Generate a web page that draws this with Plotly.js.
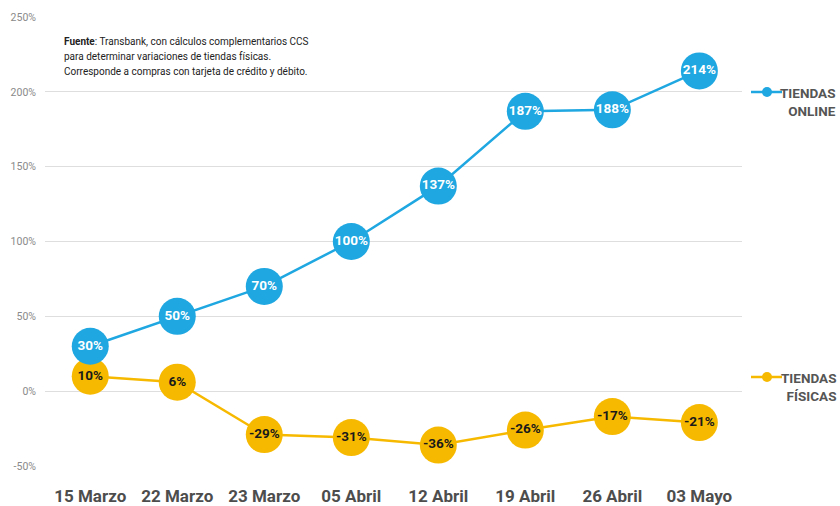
<!DOCTYPE html>
<html>
<head>
<meta charset="utf-8">
<script src="https://cdn.plot.ly/plotly-3.0.1.min.js"></script>
<style>html,body{margin:0;padding:0;background:#fff;}#chart{width:840px;height:506px;}</style>
</head>
<body>
<div id="chart"></div>
<script>
var categories = ["15 Marzo", "22 Marzo", "23 Marzo", "05 Abril", "12 Abril", "19 Abril", "26 Abril", "03 Mayo"];
var online = [30, 50, 70, 100, 137, 187, 188, 214];
var fisicas = [10, 6, -29, -31, -36, -26, -17, -21];
var yTickVals = [-50, 0, 50, 100, 150, 200, 250];
var yTickText = ["-50%", "0%", "50%", "100%", "150%", "200%", "250%"];
var onlineName = "TIENDAS<br>ONLINE";
var fisicasName = "TIENDAS<br>FÍSICAS";
var sourceLines = [
  "<b>Fuente</b>: Transbank, con cálculos complementarios CCS",
  "para determinar variaciones de tiendas físicas.",
  "Corresponde a compras con tarjeta de crédito y débito."
];

var FONT = "Roboto, 'Liberation Sans', sans-serif";
var BLUE = "#1ea7e1";
var YELLOW = "#f7b900";

function pct(arr){ return arr.map(function(v){ return "<b>" + v + "%</b>"; }); }

var traces = [
  {
    x: categories, y: fisicas, name: fisicasName, showlegend: false,
    type: "scatter", mode: "lines+markers+text",
    line: {color: YELLOW, width: 2.5},
    marker: {color: YELLOW, size: 37, line: {width: 0}},
    text: pct(fisicas), textposition: "middle center",
    textfont: {family: FONT, size: 13.5, color: "#1a1a1a"},
    cliponaxis: false
  },
  {
    x: categories, y: online, name: onlineName, showlegend: false,
    type: "scatter", mode: "lines+markers+text",
    line: {color: BLUE, width: 2.5},
    marker: {color: BLUE, size: 37, line: {width: 0}},
    text: pct(online), textposition: "middle center",
    textfont: {family: FONT, size: 13.5, color: "#ffffff"},
    cliponaxis: false
  }
];

// plot area: x 45..742 px, y 17..466 px
var PX0 = 45, PW = 697, PY1 = 466, PH = 449;
function px(x){ return (x - PX0) / PW; }
function py(y){ return (PY1 - y) / PH; }

var legendKeys = [
  {name: onlineName, color: BLUE, yPx: 92},
  {name: fisicasName, color: YELLOW, yPx: 377}
];
var shapes = [];
var annotations = [];
sourceLines.forEach(function(t, i){
  annotations.push({
    xref: "paper", yref: "paper", x: px(62), y: py(41.5 + i * 15.2),
    xanchor: "left", yanchor: "middle", align: "left",
    text: t, showarrow: false,
    font: {family: FONT, size: 10, color: "#222222"}
  });
});
legendKeys.forEach(function(k){
  shapes.push({type: "line", xref: "paper", yref: "paper", x0: px(751), x1: px(782), y0: py(k.yPx), y1: py(k.yPx),
               line: {color: k.color, width: 2.5}});
  shapes.push({type: "circle", xref: "paper", yref: "paper",
               x0: px(762), x1: px(772), y0: py(k.yPx + 5), y1: py(k.yPx - 5),
               fillcolor: k.color, line: {width: 0}});
  annotations.push({xref: "paper", yref: "paper", x: px(838), y: py(k.yPx - 9), xanchor: "right", yanchor: "top",
                    align: "right", showarrow: false, text: "<b>" + k.name + "</b>",
                    font: {family: FONT, size: 13.5, color: "#555555"}});
});

var layout = {
  width: 840, height: 506,
  margin: {l: 45, r: 98, t: 17, b: 40},
  paper_bgcolor: "#ffffff", plot_bgcolor: "#ffffff",
  showlegend: false,
  xaxis: {
    type: "category",
    range: [-0.52, 7.49],
    showgrid: false, zeroline: false, showline: false,
    ticks: "", ticklabelstandoff: 18, tickangle: 0, automargin: false,
    tickfont: {family: FONT, size: 17, color: "#4d4d4d", weight: "bold"}
  },
  yaxis: {
    range: [-50, 250],
    tickvals: yTickVals, ticktext: yTickText,
    showgrid: true, gridcolor: "#dedede", gridwidth: 1,
    zeroline: false, showline: false, ticks: "", automargin: false,
    ticklabelstandoff: 8,
    tickfont: {family: FONT, size: 10.5, color: "#8a8a8a"}
  },
  shapes: shapes,
  annotations: annotations
};

Plotly.newPlot("chart", traces, layout, {displayModeBar: false, staticPlot: true});
</script>
</body>
</html>
